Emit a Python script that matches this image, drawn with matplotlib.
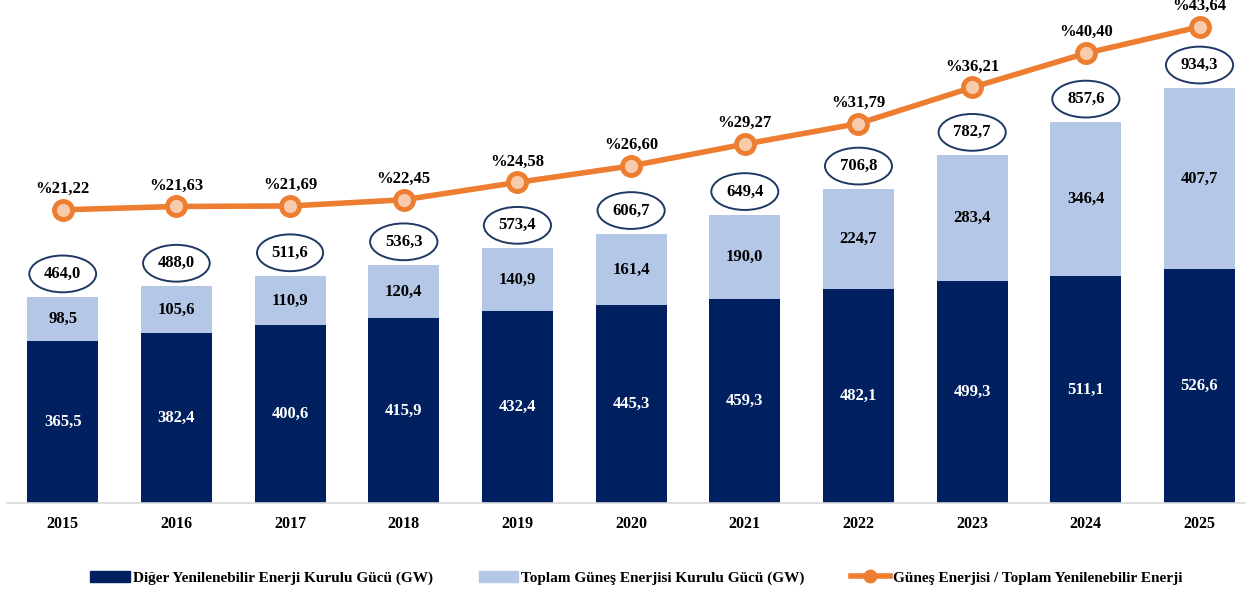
import matplotlib.pyplot as plt
from matplotlib.lines import Line2D
from matplotlib.patches import Patch

plt.rcParams['font.family'] = ['Liberation Serif', 'DejaVu Serif']
plt.rcParams['font.weight'] = 'bold'

years = ['2015', '2016', '2017', '2018', '2019', '2020', '2021', '2022', '2023', '2024', '2025']
other = [365.5, 382.4, 400.6, 415.9, 432.4, 445.3, 459.3, 482.1, 499.3, 511.1, 526.6]
solar = [98.5, 105.6, 110.9, 120.4, 140.9, 161.4, 190.0, 224.7, 283.4, 346.4, 407.7]
totals = [464.0, 488.0, 511.6, 536.3, 573.4, 606.7, 649.4, 706.8, 782.7, 857.6, 934.3]
share = [21.22, 21.63, 21.69, 22.45, 24.58, 26.60, 29.27, 31.79, 36.21, 40.40, 43.64]

def tr(v, d=1):
    return f'{v:.{d}f}'.replace('.', ',')

navy = '#002060'
light = '#B4C7E7'
orange = '#ED7D31'

fig = plt.figure(figsize=(12.55, 5.95), dpi=100)
ax = fig.add_axes([7 / 1255, 92 / 595, 1238 / 1255, 493 / 595])
x = list(range(len(years)))

ax.bar(x, other, width=0.625, color=navy)
ax.bar(x, solar, width=0.625, bottom=other, color=light)

for i in x:
    ax.text(i, other[i] / 2, tr(other[i]), ha='center', va='center', color='white', fontsize=12, fontweight='bold')
    ax.text(i, other[i] + solar[i] / 2, tr(solar[i]), ha='center', va='center', color='black', fontsize=12, fontweight='bold')
    ax.annotate(tr(totals[i]), (i, totals[i]), xytext=(0, 23), textcoords='offset pixels',
                ha='center', va='center', fontsize=12, fontweight='bold',
                bbox=dict(boxstyle='ellipse,pad=0.3', fc='white', ec='#1F3864', lw=1.4))

ax.set_xlim(-0.49, 10.4)
ax.set_ylim(0, 1110)
ax.set_yticks([])
ax.set_xticks(x)
ax.set_xticklabels(years, fontsize=11.5, fontweight='bold')
ax.tick_params(axis='x', length=0, pad=9)
for s in ['top', 'right', 'left']:
    ax.spines[s].set_visible(False)
ax.spines['bottom'].set_color('#D9D9D9')
ax.spines['bottom'].set_linewidth(1.2)

ax2 = ax.twinx()
ax2.plot(x, share, color=orange, lw=4, marker='o', markersize=13,
         markerfacecolor='#F8CBAD', markeredgecolor=orange, markeredgewidth=3.5, zorder=5)
for i in x:
    ax2.annotate('%' + tr(share[i], 2), (i, share[i]), xytext=(0, 21), textcoords='offset pixels',
                 ha='center', va='center', fontsize=12, fontweight='bold')
ax2.set_ylim(-14.7, 45.7)
ax2.set_yticks([])
for s in ['top', 'right', 'left', 'bottom']:
    ax2.spines[s].set_visible(False)

handles = [Patch(color=navy), Patch(color=light),
           Line2D([0], [0], color=orange, lw=4, marker='o', markersize=9,
                  markerfacecolor=orange, markeredgecolor=orange)]
labels = ['Diğer Yenilenebilir Enerji Kurulu Gücü (GW)',
          'Toplam Güneş Enerjisi Kurulu Gücü (GW)',
          'Güneş Enerjisi / Toplam Yenilenebilir Enerji']
fig.legend(handles, labels, loc='center', bbox_to_anchor=(0.507, 17 / 595), ncol=3,
           frameon=False, fontsize=11, handlelength=2.6, handleheight=0.7,
           handletextpad=0.2, columnspacing=3)

fig.savefig('out.png', dpi=100)
